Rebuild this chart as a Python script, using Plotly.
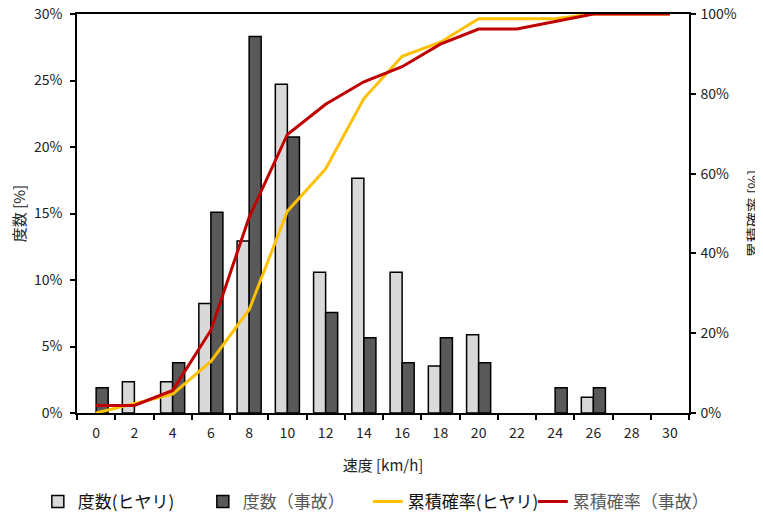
import plotly.graph_objects as go

speeds = ["0", "2", "4", "6", "8", "10", "12", "14", "16", "18", "20", "22", "24", "26", "28", "30"]
freq_hiyari = [0, 2.35, 2.35, 8.24, 12.94, 24.71, 10.59, 17.65, 10.59, 3.53, 5.88, 0, 0, 1.18, 0, 0]
freq_jiko = [1.89, 0, 3.77, 15.09, 28.30, 20.75, 7.55, 5.66, 3.77, 5.66, 3.77, 0, 1.89, 1.89, 0, 0]
cum_hiyari = [0, 2.35, 4.71, 12.94, 25.88, 50.59, 61.18, 78.82, 89.41, 92.94, 98.82, 98.82, 98.82, 100, 100, 100]
cum_jiko = [1.89, 1.89, 5.66, 20.75, 49.06, 69.81, 77.36, 83.02, 86.79, 92.45, 96.23, 96.23, 98.11, 100, 100, 100]

left_ticks = [0, 5, 10, 15, 20, 25, 30]
left_labels = ["0%", "5%", "10%", "15%", "20%", "25%", "30%"]
right_ticks = [0, 20, 40, 60, 80, 100]
right_labels = ["0%", "20%", "40%", "60%", "80%", "100%"]

FONT = "Noto Sans CJK JP"


def nz(vals):
    return [v if v else None for v in vals]


fig = go.Figure()
fig.add_trace(go.Bar(x=speeds, y=nz(freq_hiyari), name="度数(ヒヤリ)",
                     marker=dict(color="#d9d9d9", line=dict(color="black", width=1.5))))
fig.add_trace(go.Bar(x=speeds, y=nz(freq_jiko),
                     name='<span style="color:#595959">度数（事故）</span>',
                     marker=dict(color="#595959", line=dict(color="black", width=1.5))))
fig.add_trace(go.Scatter(x=speeds, y=cum_hiyari, name="累積確率(ヒヤリ)", mode="lines",
                         line=dict(color="#ffc000", width=3), yaxis="y2"))
fig.add_trace(go.Scatter(x=speeds, y=cum_jiko,
                         name='<span style="color:#595959">累積確率（事故）</span>', mode="lines",
                         line=dict(color="#c00000", width=3), yaxis="y2"))

axis_common = dict(ticks="outside", ticklen=5, tickcolor="black", tickwidth=1.5,
                   showline=True, linecolor="black", linewidth=1.5,
                   showgrid=False, zeroline=False, automargin=False,
                   ticklabeloverflow="allow",
                   tickfont=dict(size=14, color="#222"))

fig.update_layout(
    width=755, height=507,
    margin=dict(l=69, r=74, t=6, b=102, autoexpand=False),
    paper_bgcolor="white", plot_bgcolor="white",
    font=dict(family=FONT, size=14, color="#222"),
    barmode="group", bargap=0.37, bargroupgap=0,
    showlegend=True,
    legend=dict(orientation="h", x=-0.064, xanchor="left", y=-0.223, yanchor="middle",
                font=dict(size=17, color="#111"), itemwidth=30, tracegroupgap=0,
                entrywidth=120, entrywidthmode="pixels"),
    xaxis=dict(type="category", range=[-0.5, 15.5], tickson="boundaries", mirror=True,
               ticklabelstandoff=6,
               title=dict(text="速度 [km/h]", font=dict(size=15, color="#222"), standoff=20),
               **axis_common),
    yaxis=dict(range=[0, 30], tickvals=left_ticks, ticktext=left_labels,
               ticklabelstandoff=5,
               title=dict(text="度数 [%]", font=dict(size=15, color="#222"), standoff=8),
               **axis_common),
    yaxis2=dict(range=[0, 100], tickvals=right_ticks, ticktext=right_labels,
                overlaying="y", side="right", ticklabelstandoff=2,
                title=dict(text="累積確率 [%]", font=dict(size=15, color="#222"), standoff=14),
                **axis_common),
)

fig.write_html("out.html")
